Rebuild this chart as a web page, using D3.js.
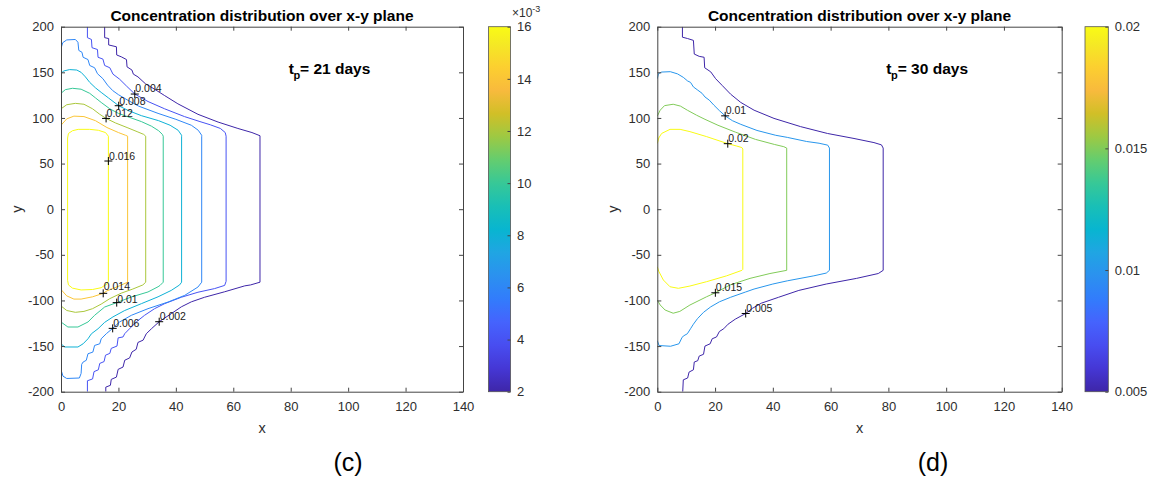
<!DOCTYPE html>
<html><head><meta charset="utf-8">
<script src="https://cdn.jsdelivr.net/npm/d3@7"></script>
<style>
html,body{margin:0;padding:0;background:#fff;}
svg{display:block;font-family:"Liberation Sans",Arial,Helvetica,sans-serif;}
</style></head><body>
<svg id="chart" width="1151" height="481"></svg>
<script>
// ---------- shared axis data ----------
const xTicks = [0,20,40,60,80,100,120,140];
const yTicks = [-200,-150,-100,-50,0,50,100,150,200];

// ---------- panel (c): t_p = 21 days ----------
const levels21 = [0.002,0.004,0.006,0.008,0.010,0.012,0.014,0.016];
const cbTicks21 = [2,4,6,8,10,12,14,16]; // x10^-3
const c21_002 = [[15.2,200],[15.2,188],[16.6,187],[16.6,180],[19.3,178],[19.4,169],[21,167],[22.8,164],[23,156],[24.7,152.5],[25.2,148],[26.8,145],[29.4,137.5],[32.6,131.5],[36.1,124.5],[40.7,115.5],[47.7,104],[54.7,95.5],[61.6,88.5],[66.5,84],[69.3,80.5],
  [69.3,-80],[66,-83],[64,-84],[57,-90.5],[50,-96.5],[45.4,-101.5],[41.9,-107],[38.4,-114.5],[34.2,-123.3],[31.5,-131],[29.7,-136.5],[28.6,-143.5],[26.8,-146],[26.2,-153.5],[24.7,-156.5],[23.9,-163],[22.2,-165.5],[21.6,-173],[19.9,-175.5],[19.3,-184],[17.5,-186.5],[17.2,-193],[15.6,-195],[15.6,-200]];
const c21_004 = [[9.2,200],[9.2,188],[10.6,186],[10.8,177],[12.7,175],[12.9,166.5],[14.6,164.5],[15.2,157.5],[17,155],[18.1,148],[20.4,142.5],[22.8,135],[25.7,126.2],[30.3,118],[36.1,110],[43,101.5],[48.4,96],[52,92.5],[55.5,88.5],[57.2,84],[57.5,80],
  [57.5,-79],[57,-83.5],[53.5,-87],[47.7,-91],[41.9,-96.5],[36.1,-103.5],[32.6,-109],[29.1,-116.3],[26.2,-123.6],[23.9,-130.9],[22.2,-136.4],[21.6,-140],[19.9,-141],[19.5,-150],[17.5,-152.5],[17,-158],[15.5,-160],[15,-167],[13.5,-169],[13,-176],[11.5,-178],[11,-186],[9.2,-188],[9.2,-200]];
const c21_006 = [[0,176],[0.6,182.5],[2,185.5],[5,186],[5.9,183],[6.2,174],[7.3,172],[7.7,166.5],[9.4,164],[10,157.5],[11.7,155],[12.7,148.5],[14.6,143],[16.2,136],[18,130],[20,125.5],[23.5,119],[27,113],[33.8,105],[40,98.5],[45.4,92],[47.8,86.5],[49,81],[49,80],
  [49,-80],[47.7,-85.3],[43.1,-94.4],[37.3,-101.7],[30.3,-109],[24.5,-116.3],[20.4,-123.6],[18,-130.6],[15.8,-136.4],[14,-142],[13.5,-147.5],[11.7,-149.3],[11.1,-156.6],[9.4,-158.4],[8.8,-165.6],[7.7,-167.5],[7.2,-170],[7,-180],[6.4,-185],[2,-185.5],[0.7,-183],[0.2,-178],[0,-169]];
const c21_008 = [[0,149],[1,151.5],[3,153],[5.5,152.5],[7,150],[8.5,145],[10,139],[12,133],[14,128],[16.5,122],[20.1,113.4],[23.5,108],[28,102.5],[34,97],[38,92],[40.8,86.5],[42,81],[42,80],
  [42,-80],[41.3,-83],[38.4,-89],[33.8,-96],[28,-103.5],[22.2,-111],[18.1,-118],[15.2,-124],[12.9,-131],[10.6,-136.5],[9.4,-142],[7.7,-147.5],[5.9,-151],[1.3,-151],[0,-147.5]];
const c21_010 = [[0,127],[1.5,131],[4,132.5],[7,131.5],[10,127],[12,122],[14,117],[17,110],[20,105],[24,100.5],[28,96],[31.5,91],[34,86],[35.3,82],[35.6,80],
  [35.6,-80],[34.5,-83.5],[33.8,-85],[30.3,-90.7],[24.5,-96.2],[19.4,-102.4],[15.2,-107.2],[11.7,-116.3],[9.4,-123.6],[5.9,-129.1],[2.4,-129.1],[0,-123.6]];
const c21_012 = [[0,110],[2,114.5],[5,116],[8,115],[11,110],[13.5,104],[15.7,99.5],[19,94.5],[23,89.5],[26.5,85],[28.8,82],[29.5,80],
  [29.5,-80],[28.5,-83],[25,-87.5],[21,-92],[17,-98],[14,-104],[11,-109],[8,-112],[5,-113],[2,-111],[0,-106]];
const c21_014 = [[0,92],[2,99],[4.5,102],[8,101.5],[12,97],[16,89.5],[20,84],[22.5,81],[23.2,80],
  [23.2,-80],[20,-84.5],[16,-89.5],[14.7,-92.2],[11,-96],[7,-98.5],[4.5,-98.5],[2,-95],[0,-88]];
const c21_016 = [[16.5,80],[15.5,84],[13,86.5],[10,87.5],[6,87.5],[4,86],[2.6,83],[2.3,78],
  [2.3,-78],[2.6,-83],[4,-86.5],[7,-88.5],[11,-88],[14,-86],[16,-82],[16.5,-79]];
const labels21 = [[25.7,126.2,"0.004"],[20.1,113.4,"0.008"],[15.7,99.5,"0.012"],[16.5,52.8,"0.016"],
  [14.7,-92.2,"0.014"],[19.4,-102.4,"0.01"],[18,-130.6,"0.006"],[34.2,-123.3,"0.002"]];

// ---------- panel (d): t_p = 30 days ----------
const levels30 = [0.005,0.010,0.015,0.020];
const cbTicks30 = [0.005,0.01,0.015,0.02];
const cbTickLabels30 = ["0.005","0.01","0.015","0.02"];
const c30_005 = [[8.7,200],[8.7,188.5],[10.5,187],[12.5,185],[12.8,170],[14.5,167.5],[16.2,166.5],[16.4,155],[18.5,150.5],[20.2,143],[22.5,135.5],[25.4,126],[28.9,117],[33.5,108.5],[40.4,99.5],[49.6,90.5],[58.9,83],[68.1,77.5],[75,73],[77.6,70.5],[78.2,67],
  [78.2,-67],[76.5,-70.5],[69,-75.8],[58.5,-82],[49,-89],[42,-96.5],[36,-103],[33,-108.5],[30.6,-114.3],[27,-120.5],[24.5,-126],[23,-131],[21.5,-134],[20.5,-140],[19,-142],[18.3,-147.5],[16.5,-150],[16,-159],[14.5,-161],[14,-166],[12.8,-167.5],[12.5,-176],[11,-178.5],[10.5,-185],[9,-187],[8.8,-200]];
const c30_010 = [[0,143],[0.4,148.5],[1.5,150.3],[4.5,150.7],[7,148.3],[9,144.5],[10.5,140.5],[11.5,139],[12.5,134],[14,130.5],[15.5,127],[16.5,123],[18,119.5],[19.6,114],[21.5,108],[23.5,102.3],[26,97],[28.9,93],[34.5,86.3],[41,81],[45,78.7],[51.7,74.2],[56,72.3],[59,70.2],[59.6,67],
  [59.6,-67],[58.5,-70],[54.2,-73],[45,-78.5],[40,-82],[33.5,-87.5],[30.6,-90.7],[25.4,-96.5],[21.5,-101.5],[18.5,-107],[16,-113],[13.9,-120],[12.5,-126],[11.5,-131],[10.4,-136.5],[9,-139],[8.5,-141],[7.5,-147.5],[4.6,-150.2],[0.6,-149.4],[0,-144]];
const c30_015 = [[0,102],[1,108.5],[2.5,113.5],[5.5,115],[8,113],[10.4,108.5],[13.6,103],[16.5,98.5],[21,92],[27,84.5],[34,76.5],[40.5,71],[43.8,68.5],[44.8,67],
  [44.8,-67],[39,-70.5],[32.1,-75.8],[25.2,-83],[20.1,-91.6],[17.1,-95.9],[11.3,-105],[7.8,-112],[5.5,-114],[2.7,-110.5],[1,-105],[0,-99.5]];
const c30_020 = [[0,72],[0.5,78],[1.5,83],[4.4,87.5],[7.9,87.5],[11.3,85],[17.1,79.5],[24.4,71.8],[27.5,69.2],[29.3,67.5],[29.6,66],
  [29.6,-66],[29.3,-67],[24,-73],[17.1,-79.4],[11.3,-84.2],[7.3,-86.7],[4.4,-85],[2.1,-77.6],[0.5,-68],[0,-63]];
const labels30 = [[23.5,102.3,"0.01"],[24.4,71.8,"0.02"],[20.1,-91.6,"0.015"],[30.6,-114.3,"0.005"]];

// ---------- parula colormap (MATLAB R2017a+, every 4th of 64 entries) ----------
const parulaIdx = [0,4,8,12,16,20,24,28,32,36,40,44,48,52,56,60,63];
const parulaRGB = [[0.2422,0.1504,0.6603],[0.2706,0.2147,0.8364],[0.2813,0.3006,0.9414],[0.2699,0.3892,0.9906],
  [0.1963,0.4847,0.9892],[0.1687,0.5703,0.9359],[0.1248,0.6459,0.8883],[0.0297,0.7082,0.8163],
  [0.0964,0.7500,0.7120],[0.2161,0.7843,0.5923],[0.3909,0.8029,0.4354],[0.6174,0.7876,0.2612],
  [0.8203,0.7498,0.1535],[0.9728,0.7298,0.2394],[0.9892,0.8136,0.1885],[0.9597,0.9135,0.1423],[0.9769,0.9839,0.0805]];

const FONT = '"Liberation Sans",Arial,Helvetica,sans-serif';
const svg = d3.select("#chart");
const defs = svg.append("defs");
const pos = parulaIdx.map(i => i/63);
const hexes = parulaRGB.map(c => d3.rgb(c[0]*255,c[1]*255,c[2]*255).formatHex());
const parula = d3.scaleLinear().domain(pos).range(hexes).interpolate(d3.interpolateRgb).clamp(true);

const grad = defs.append("linearGradient").attr("id","parulaGrad").attr("x1",0).attr("y1",1).attr("x2",0).attr("y2",0);
pos.forEach((p,i) => grad.append("stop").attr("offset",p).attr("stop-color",hexes[i]));

const panels = [
  { left:61, right:463, clim:[0.002,0.016],
    series:[[levels21[0],c21_002],[levels21[1],c21_004],[levels21[2],c21_006],[levels21[3],c21_008],[levels21[4],c21_010],[levels21[5],c21_012],[levels21[6],c21_014],[levels21[7],c21_016,true]],
    labels:labels21, tp:"21", cb:{x0:488.5,x1:510.5,domain:[2,16],ticks:cbTicks21,fmt:d=>String(d)},
    caption:"(c)", capX:348, exp:true },
  { left:657.3, right:1061.7, clim:[0.005,0.020],
    series:[[levels30[0],c30_005],[levels30[1],c30_010],[levels30[2],c30_015],[levels30[3],c30_020]],
    labels:labels30, tp:"30", cb:{x0:1085,x1:1108.3,domain:[0.005,0.02],ticks:cbTicks30,fmt:(d,i)=>cbTickLabels30[i]},
    caption:"(d)", capX:933, exp:false }
];

const TOP = 26.7, BOT = 391.7;
function axStyle(g){
  g.attr("font-family",FONT).attr("font-size",13);
  g.select(".domain").attr("stroke","#444").attr("stroke-width",1);
  g.selectAll(".tick line").attr("stroke","#444");
  g.selectAll(".tick text").attr("fill","#2e2e2e");
}

panels.forEach((p,k) => {
  const x = d3.scaleLinear().domain([0,140]).range([p.left,p.right]);
  const y = d3.scaleLinear().domain([-200,200]).range([BOT,TOP]);
  const clipId = "clip"+k;
  defs.append("clipPath").attr("id",clipId).append("rect")
    .attr("x",p.left).attr("y",TOP).attr("width",p.right-p.left).attr("height",BOT-TOP);
  const color = v => parula((v-p.clim[0])/(p.clim[1]-p.clim[0]));
  const line = d3.line().x(d=>x(d[0])).y(d=>y(d[1]));
  const gc = svg.append("g").attr("clip-path",`url(#${clipId})`);
  p.series.forEach(([lev,pts,closed]) => {
    gc.append("path").attr("d", line(pts)+(closed?"Z":""))
      .attr("fill","none").attr("stroke",color(lev)).attr("stroke-width",1)
      .attr("stroke-linejoin","round");
  });

  // axes (box with inward ticks)
  svg.append("g").attr("transform",`translate(0,${BOT})`)
    .call(d3.axisBottom(x).tickValues(xTicks).tickSize(-4).tickSizeOuter(0).tickPadding(10.5).tickFormat(d=>String(d))).call(axStyle);
  svg.append("g").attr("transform",`translate(0,${TOP})`)
    .call(d3.axisTop(x).tickValues(xTicks).tickSize(-4).tickSizeOuter(0).tickFormat("")).call(axStyle);
  svg.append("g").attr("transform",`translate(${p.left},0)`)
    .call(d3.axisLeft(y).tickValues(yTicks).tickSize(-4).tickSizeOuter(0).tickPadding(7).tickFormat(d=>String(d))).call(axStyle);
  svg.append("g").attr("transform",`translate(${p.right},0)`)
    .call(d3.axisRight(y).tickValues(yTicks).tickSize(-4).tickSizeOuter(0).tickFormat("")).call(axStyle);

  // contour labels ("+" marker and value, text to the upper right)
  const gl = svg.append("g");
  const texts = [];
  p.labels.forEach(([lx,ly,t]) => {
    const px = x(lx), py = y(ly);
    gl.append("path").attr("d",`M${px-4},${py}H${px+4}M${px},${py-4}V${py+4}`)
      .attr("stroke","#000").attr("stroke-width",1).attr("fill","none");
    texts.push(gl.append("text").attr("x",px+0.5).attr("y",py-1.5).attr("font-size","10.5px")
      .attr("fill","#1a1a1a").text(t));
  });
  // resolve text box collisions by nudging apart vertically
  for (let i=0;i<texts.length;i++) for (let j=0;j<texts.length;j++) {
    if (i===j) continue;
    const a = texts[i].node().getBBox(), b = texts[j].node().getBBox();
    const ox = Math.min(a.x+a.width,b.x+b.width)-Math.max(a.x,b.x);
    const oy = Math.min(a.y+a.height,b.y+b.height)-Math.max(a.y,b.y);
    if (ox>0 && oy>0 && a.y<b.y) {
      const s = oy/2+0.3;
      texts[i].attr("y",+texts[i].attr("y")-s);
      texts[j].attr("y",+texts[j].attr("y")+s);
    }
  }

  // title
  svg.append("text").attr("x",(p.left+p.right)/2).attr("y",21).attr("text-anchor","middle")
    .attr("font-weight","bold").attr("font-size","15.5px").attr("fill","#000")
    .text("Concentration distribution over x-y plane");
  // t_p annotation
  const tp = svg.append("text").attr("x",x(79.3)).attr("y",y(148.5))
    .attr("font-weight","bold").attr("font-size","15.5px").attr("fill","#000");
  tp.append("tspan").text("t");
  tp.append("tspan").attr("dy",5).attr("dx",-0.5).attr("font-size","11px").text("p");
  tp.append("tspan").attr("dy",-5).text("= "+p.tp+" days");

  // axis labels
  svg.append("text").attr("x",(p.left+p.right)/2).attr("y",433).attr("text-anchor","middle")
    .attr("font-size","14.5px").attr("fill","#2e2e2e").text("x");
  svg.append("text").attr("transform",`translate(${p.left-39.5},209) rotate(-90)`).attr("text-anchor","middle")
    .attr("font-size","14.5px").attr("fill","#2e2e2e").text("y");

  // colorbar
  const cy = d3.scaleLinear().domain(p.cb.domain).range([BOT,TOP]);
  svg.append("rect").attr("x",p.cb.x0).attr("y",TOP).attr("width",p.cb.x1-p.cb.x0).attr("height",BOT-TOP)
    .attr("fill","url(#parulaGrad)").attr("stroke","#555").attr("stroke-width",0.8);
  svg.append("g").attr("transform",`translate(${p.cb.x1},0)`)
    .call(d3.axisRight(cy).tickValues(p.cb.ticks).tickSize(-3).tickSizeOuter(0).tickPadding(6.5).tickFormat(p.cb.fmt))
    .call(axStyle).call(g=>g.select(".domain").remove());
  if (p.exp) {
    const e = svg.append("text").attr("x",p.cb.x1+1.5).attr("y",17).attr("font-size","12px").attr("fill","#2e2e2e");
    e.append("tspan").text("\u00d710");
    e.append("tspan").attr("dy",-5).attr("font-size","9px").text("-3");
  }

  // caption
  svg.append("text").attr("x",p.capX).attr("y",470.5).attr("text-anchor","middle")
    .attr("font-size","25px").attr("fill","#000").text(p.caption);
});
</script></body></html>
